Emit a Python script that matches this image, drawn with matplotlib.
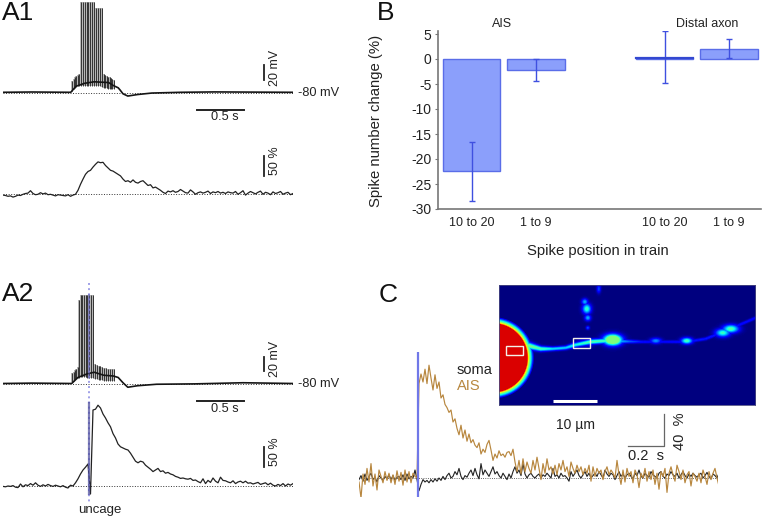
import matplotlib
matplotlib.use("Agg")
import matplotlib.pyplot as plt
import numpy as np

plt.rcParams['font.family'] = ['Liberation Sans', 'DejaVu Sans']
W, H = 763, 519

# panel A1, voltage: slow envelope (s, mV above rest) and spikes
a1_env_t = [0, 0.3, 0.7, 0.71, 0.76, 0.85, 0.95, 1.1, 1.15, 1.2, 1.22, 1.25, 1.3, 1.4, 1.55, 1.85, 2.2, 3.02]
a1_env_v = [0, 0.4, 0, 0.5, 8, 12, 14, 13, 9, 6, 3, -2, -5, -3, -1, 0, 0.5, 0]
a1_spk_t = [0.72, 0.735, 0.75, 0.765, 0.78, 0.795, 0.81, 0.83, 0.85, 0.87, 0.89, 0.91, 0.93, 0.95, 0.97, 0.99, 1.01, 1.03,
            1.05, 1.065, 1.08, 1.095, 1.11, 1.125, 1.14, 1.155]
a1_spk_hi = [15, 18, 20, 22, 23, 25, 120, 120, 120, 120, 120, 120, 120, 120, 112, 112, 112, 112,
             24, 23, 22, 21, 20, 19, 18, 17]
a1_spk_lo = [2, 4, 6, 7, 8, 8, 8, 8, 9, 9, 9, 9, 9, 9, 9, 8, 8, 7, 6, 6, 6, 5, 5, 5, 4, 4]

# panel A2, voltage
a2_env_t = [0, 0.3, 0.71, 0.72, 0.78, 0.88, 0.95, 1.05, 1.15, 1.2, 1.25, 1.3, 1.4, 1.6, 2.0, 2.5, 3.02]
a2_env_v = [0, 0.5, 0, 0.5, 8, 13, 15, 11, 10, 8, 1, -5, -3, -1, -0.5, 1, 0]
a2_spk_t = [0.72, 0.735, 0.75, 0.765, 0.78, 0.79, 0.808, 0.826, 0.844, 0.862, 0.88, 0.898, 0.916, 0.934,
            0.955, 0.975, 0.995, 1.015, 1.035, 1.055, 1.075, 1.095, 1.115, 1.135, 1.155]
a2_spk_hi = [14, 16, 18, 20, 22, 111, 118, 118, 118, 118, 118, 118, 118, 118,
             26, 25, 24, 23, 22, 21, 21, 20, 20, 19, 19]
a2_spk_lo = [2, 4, 6, 7, 8, 8, 9, 9, 9, 9, 8, 7, 7, 7, 6, 6, 5, 5, 5, 4, 4, 4, 4, 4, 4]

# panel A1, calcium (%), one sample every 2.5 px
a1_ca = [-2, -3, -5, -4, -7, -5, -2, -3, 0, 2, 3, 9, 2, -1, 0, 4, 1, 3, -1, 0, -2, -4, -1, -2, -3, -4, -1, -5, -2, 0,
         10, 25, 38, 50, 57, 60, 68, 75, 81, 79, 80, 72, 66, 60, 58, 54, 50, 46, 38, 32, 34, 30, 36, 30, 28, 32, 34, 28,
         22, 24, 16, 18, 14, 10, 5, 2, 8, 6, 9, 5, 7, 12, 8, 4, 3, 11, 6, 0, 4, 6, 3, 5, 8, 2, 6, 4, 7, 3, 5, 2, 6, 4,
         3, 7, 0, 4, 9, -2, 3, 7, 4, 1, 5, 8, 0, 5, 3, -1, 6, 2, 4, 7, 0, 3, 5, -1, 2]

# panel A2, calcium (%), one sample every 2.5 px
a2_ca = [-1, -2, 0, -1, 1, -3, -4, 5, -2, 3, 1, 6, 2, 8, 2, -1, 3, 0, 4, 1, -1, 2, 0, -2, 1, -3, -5, 2, 0,
         8, 18, 30, 40, 47, 55, -20, 190, 192, 202, 195, 180, 170, 158, 148, 131, 120, 105, 98, 95, 92, 90, 82, 72, 62, 58,
         62, 60, 52, 47, 42, 36, 40, 44, 36, 38, 32, 34, 30, 28, 24, 22, 19, 20, 18, 17, 19, 14, 15, 11, 8, 18, 6, 14,
         9, 20, 12, 8, 22, 14, 13, 10, 8, 13, 6, 10, 12, 8, 12, 7, 8, 5, 7, 9, 4, 6, 8, 3, 7, 2, 0, 4, 1, 6, 0, 5, 2, 6]

# panel B
b_pos = [0, 1, 3, 4]
b_labels = ['10 to 20', '1 to 9', '10 to 20', '1 to 9']
b_vals = [-22.3, -2.1, 0.2, 2.1]
b_low = [-28.3, -4.4, -4.8, 0.2]
b_high = [-16.5, 0.0, 5.6, 4.1]
b_yticks = [5, 0, -5, -10, -15, -20, -25, -30]

# panel C, one sample every 2 px, uncaging at sample 29
c_ais = [-5, -25, 5, -8, 12, -5, 18, -10, 5, -15, 10, 2, -6, 8, -3, 6, -6, 4, -8, 9, -4, 7, -9, 10, -5, 8, -6, 6, 2,
         0, 118, 130, 120, 136, 118, 141, 125, 110, 129, 112, 120, 100, 104, 92, 88, 82, 85, 70, 74, 62, 54, 66, 50, 60, 46,
         55, 44, 48, 41, 38, 44, 30, 36, 32, 42, 47, 35, 22, 30, 25, 34, 28, 30, 26, 32, 33, 28, 36, 20, 8, 22, 5, 24, 8, 20,
         12, 6, 22, 10, 26, 12, -2, 18, 6, 24, 10, 14, 5, 16, 4, 18, 10, 22, 8, 14, 2, 20, 12, 6, 16, 8, 14, 4, 12, 6,
         16, -4, 14, 2, 12, 6, 10, -2, 8, 14, 4, 10, 6, 0, 22, 4, -8, 10, -5, 12, 2, 8, -6, 10, 4, -12, 6, 0, 12, -4, 8, -2,
         10, -8, 6, -14, 8, 2, 12, -18, 6, 14, 4, -4, 16, 8, -2, 10, -6, 4, 8, -10, 6, 2, -4, 6, -6, 10, 2, -8, 8, -2, 6, 12,
         0, -10, 4, 8, -4, 10]
c_soma = [-2, 3, -4, 5, -3, 2, 6, -2, 1, -5, 3, 0, -3, 2, -1, 4, -2, 3, -3, 1, 2, -2, 4, -3, 5, -1, 2, 0, 10,
          -2, -16, -8, -2, -5, -3, -6, -2, -5, -1, -4, 0, -3, 2, -2, 3, 6, 0, 2, 8, 4, 12, 2, -2, 3, 1, 6, 10, 3, 12, 4,
          -1, 18, 4, 10, 6, 2, 8, 14, 5, 8, 3, 0, 6, 2, -2, 5, 0, 8, 14, 6, 10, 3, 18, 5, 0, 4, 6, 2, 0, 3, 5, 0, 4, 2, 6, 3,
          0, 12, 2, 4, 0, 6, 2, 3, 0, -4, 8, 2, 6, 10, 3, 0, 4, 8, 2, 6, 0, 3, 6, 2, 8, 4, 0, 10, 5, 2, 6, 4, -2, 3, 8, 2, 5,
          0, 4, 6, 2, -1, 6, 3, 10, 2, 0, 6, 3, 1, 8, 4, 2, 0, 6, 8, 2, 0, 5, 3, 8, 4, 2, 6, 0, 4, 8, 3, 0, 5, 2, 6, 3, 1, 4,
          6, 0, 3, 7, 2, -1, 5, 3, 0, 6, 2, 4, 1]

# panel C picture: axon path and bright spots
axon_x = [528, 540, 552, 565, 575, 590, 605, 640, 660, 686, 705, 725, 755]
axon_y = [346, 349, 349, 348, 345, 342, 341, 342, 342, 342, 339, 331, 318]
axon_w = [2.4, 1.8, 1.4, 1.4, 1.6, 1.8, 1.8, 1.1, 1.1, 1.1, 1.1, 1.1, 1.1]
axon_a = [0.5, 0.44, 0.35, 0.33, 0.38, 0.45, 0.42, 0.14, 0.12, 0.14, 0.15, 0.15, 0.13]
spot_x = [612, 585, 655, 686, 722, 730, 586, 584, 587, 598, 587]
spot_y = [340, 343, 341, 341, 333, 329, 309, 302, 318, 289, 328]
spot_sx = [6.0, 6.0, 4.0, 4.0, 5.0, 5.5, 3.0, 2.2, 2.2, 1.5, 1.3]
spot_sy = [3.6, 2.5, 2.0, 2.2, 2.8, 2.8, 3.5, 2.2, 2.2, 3.0, 1.3]
spot_a = [0.85, 0.2, 0.27, 0.44, 0.42, 0.46, 0.42, 0.3, 0.3, 0.2, 0.2]


def trace_axes(x0, x1, y0, y1, xlim, ylim):
    ax = fig.add_axes([x0 / W, 1 - y1 / H, (x1 - x0) / W, (y1 - y0) / H])
    ax.set_xlim(xlim)
    ax.set_ylim(ylim)
    ax.axis('off')
    return ax


def voltage_panel(ybase, env_t, env_v, t, hi, lo):
    # 96 px per s, 0.75 px per mV
    ax = trace_axes(3, 293, ybase - 95, ybase + 30, (0, 290 / 96), (-30 / 0.75, 95 / 0.75))
    ax.plot([0, 3.02], [-1.3, -1.3], color='#333333', lw=0.7, ls=':')
    ax.vlines(t, lo, hi, color='#a8a8a8', lw=1.2)
    ax.vlines(t, lo, hi, color='#111111', lw=0.55)
    ax.plot(env_t, env_v, color='#151515', lw=1.2)
    ax.text(3.07, -1, '-80 mV', fontsize=9.2, va='center', color='#222222', clip_on=False)
    ax.plot([2.018, 2.515], [-23, -23], color='#222222', lw=1.4)
    ax.text(2.31, -33.5, '0.5 s', fontsize=9.2, ha='center', va='center', color='#222222')
    ax.plot([2.72, 2.72], [16.5, 36], color='#222222', lw=1.3)
    ax.text(2.83, 33, '20 mV', fontsize=9, rotation=90, ha='center', va='center', color='#222222')
    return ax


def calcium_panel(ybase, ca, y_top):
    # 0.4 px per %
    ax = trace_axes(3, 293, y_top, ybase + 30, (0, 290 / 96), (-30 / 0.4, (ybase - y_top) / 0.4))
    t = np.arange(len(ca)) * 2.5 / 96
    ax.plot([0, 3.02], [0, 0], color='#333333', lw=0.7, ls=':')
    ax.plot(t, ca, color='#222222', lw=0.9)
    return ax


fig = plt.figure(figsize=(W / 100, H / 100), dpi=100)

# A1
voltage_panel(92.3, a1_env_t, a1_env_v, a1_spk_t, a1_spk_hi, a1_spk_lo)
ax = calcium_panel(194.3, a1_ca, 130)
ax.plot([2.72, 2.72], [46, 96], color='#222222', lw=1.3)
ax.text(2.83, 84, '50 %', fontsize=9, rotation=90, ha='center', va='center', color='#222222')

# A2
voltage_panel(383.5, a2_env_t, a2_env_v, a2_spk_t, a2_spk_hi, a2_spk_lo)
ax = calcium_panel(486, a2_ca, 400)
ax.plot([2.72, 2.72], [48, 98], color='#222222', lw=1.3)
ax.text(2.83, 86, '50 %', fontsize=9, rotation=90, ha='center', va='center', color='#222222')
ax.text(1.01, -60, 'uncage', fontsize=9.5, ha='center', va='center', color='#222222')
# uncage marker spans both A2 traces
ov = trace_axes(0, W, 0, H, (0, W), (H, 0))
ov.plot([88.7, 88.7], [283, 503], color='#a0a0e8', lw=1.4, ls=':')
ov.plot([89, 89], [295, 378], color='#5555aa', lw=1.2, alpha=0.6)
ov.plot([89.3, 89.3], [403, 494], color='#4a4a9a', lw=1.6, alpha=0.7)
for txt, x, y in [('A1', 2, 13), ('A2', 2, 294), ('B', 377, 13.5), ('C', 379, 295)]:
    ov.text(x, y, txt, fontsize=19, va='center', ha='left', color='#111111')

# B
axb = fig.add_axes([437.7 / W, 1 - 209 / H, (760.7 - 437.7) / W, (209 - 31) / H])
axb.bar(b_pos, b_vals, width=0.89, color='#8b9ffb', edgecolor='#5a6de8', lw=1.0)
err = [np.array(b_vals) - np.array(b_low), np.array(b_high) - np.array(b_vals)]
axb.errorbar(b_pos, b_vals, yerr=err, fmt='none', ecolor='#3f50e0', elinewidth=1.0, capsize=2.5, capthick=1.0)
axb.plot([2.555, 3.445], [0.2, 0.2], color='#3348d0', lw=1.6)
axb.set_xlim(-0.525, 4.49)
axb.set_ylim(-30, 5.6)
axb.set_xticks(b_pos)
axb.set_xticklabels(b_labels, fontsize=9, color='#222222')
axb.set_yticks(b_yticks)
axb.set_yticklabels([str(v) for v in b_yticks], fontsize=10, color='#222222')
axb.tick_params(axis='x', length=0, pad=6)
axb.tick_params(axis='y', length=2.5, width=0.8, color='#777777', pad=2)
axb.spines['top'].set_visible(False)
axb.spines['right'].set_visible(False)
axb.spines['left'].set_color('#777777')
axb.spines['bottom'].set_color('#777777')
axb.spines['left'].set_linewidth(1.2)
axb.spines['bottom'].set_linewidth(1.2)
axb.set_ylabel('Spike number change (%)', fontsize=10.7, color='#222222')
axb.yaxis.set_label_coords(-0.168, 0.495)
axb.set_xlabel('Spike position in train', fontsize=10.7, color='#222222')
axb.xaxis.set_label_coords(0.496, -0.194)
axb.text(0.47, 7, 'AIS', fontsize=9, ha='center', va='center', color='#222222', clip_on=False)
axb.text(3.66, 7, 'Distal axon', fontsize=9, ha='center', va='center', color='#222222', clip_on=False)

# C picture
axi = fig.add_axes([498.7 / W, 1 - 405 / H, (755 - 498.7) / W, (405 - 284.7) / H])
xx, yy = np.meshgrid(np.arange(498.7, 755, 1.0), np.arange(284.7, 405, 1.0))
img = np.full(xx.shape, 0.0)
dist = np.hypot(xx - 492.4, yy - 358) - 35.6
img = np.maximum(img, np.clip(0.92 - np.clip(dist + 1.5, 0, None) * 0.11 - np.clip(dist + 1.5, 0, 1.5) * 0.1, 0, 1))
for i in range(len(axon_x) - 1):
    # walk along each path segment
    for f in np.arange(0, 1, 0.03):
        px = axon_x[i] + f * (axon_x[i + 1] - axon_x[i])
        py = axon_y[i] + f * (axon_y[i + 1] - axon_y[i])
        w = axon_w[i] + f * (axon_w[i + 1] - axon_w[i])
        a = axon_a[i] + f * (axon_a[i + 1] - axon_a[i])
        img = np.maximum(img, a * np.exp(-((xx - px) ** 2 + (yy - py) ** 2) / (2 * w ** 2)))
for sx, sy, ssx, ssy, a in zip(spot_x, spot_y, spot_sx, spot_sy, spot_a):
    g = a * np.exp(-(xx - sx) ** 2 / (2 * ssx ** 2) - (yy - sy) ** 2 / (2 * ssy ** 2))
    img = np.maximum(img, np.minimum(g, 0.5))
axi.imshow(img, cmap='jet', vmin=0, vmax=1, aspect='auto', interpolation='bilinear',
           extent=(498.7, 755, 405, 284.7))
axi.set_xticks([])
axi.set_yticks([])
for s in axi.spines.values():
    s.set_color('#4a4a80')
    s.set_linewidth(0.6)
for rx, ry, rw, rh in [(505.7, 345.7, 17, 9.6), (572.7, 338.3, 17.3, 10)]:
    axi.add_patch(plt.Rectangle((rx, ry), rw, rh, fill=False, ec='#f4f0e8', lw=1.0))
axi.plot([553.3, 596.7], [401, 401], color='white', lw=2.2, solid_capstyle='butt')

# C traces, 36 px per 0.2 s and 0.8 px per %
axc = trace_axes(359, 718, 352, 497, (0, 359 / 180), ((478 - 497) / 0.8, (478 - 352) / 0.8))
tc = np.arange(len(c_soma)) * 2 / 180
ta = np.arange(len(c_ais)) * 2 / 180
axc.plot([0, 359 / 180], [0, 0], color='#333333', lw=0.6, ls=':')
axc.plot(tc, c_soma, color='#222222', lw=0.8)
axc.plot(ta, c_ais, color='#b8873f', lw=0.85)
axc.axvline(29.3 * 2 / 180, color='#7078e8', lw=1.6)
ov.text(456.5, 369.5, 'soma', fontsize=10.5, color='#222222', ha='left', va='center', zorder=5)
ov.text(456.5, 386.5, 'AIS', fontsize=10.5, color='#b8873f', ha='left', va='center', zorder=5)
ov.text(575, 425.5, '10 µm', fontsize=10, color='#222222', ha='center', va='center')
ov.plot([628, 664, 664], [446, 446, 414], color='#666666', lw=0.9)
ov.text(646, 455.5, '0.2  s', fontsize=10.5, color='#222222', ha='center', va='center')
ov.text(680, 431.5, '40  %', fontsize=10.5, rotation=90, color='#222222', ha='center', va='center')

fig.savefig('out.png', dpi=100)
plt.close()
